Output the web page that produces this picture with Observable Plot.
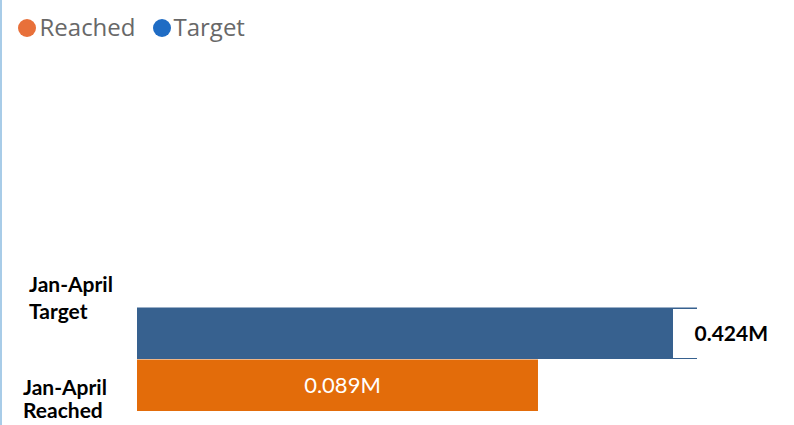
<!DOCTYPE html>
<html>
<head>
<meta charset="utf-8">
<script src="https://cdn.jsdelivr.net/npm/d3@7"></script>
<script src="https://cdn.jsdelivr.net/npm/@observablehq/plot@0.6"></script>
<style>
  html, body { margin: 0; padding: 0; background: #fff; }
  #wrap { position: relative; width: 794px; height: 425px; overflow: hidden; }
  #edge { position: absolute; left: 0; top: 0; width: 2px; height: 425px; background: #a8cce8; z-index: 2; }
  #legend { position: relative; height: 60px; font-family: "Open Sans", "Noto Sans", sans-serif; font-size: 24px; line-height: 24px; color: #686868; }
  .dot { position: absolute; top: 19px; width: 18px; height: 18px; border-radius: 50%; }
  .lbl { position: absolute; top: 15px; white-space: nowrap; }
  #chart svg { display: block; }
</style>
</head>
<body>
<div id="wrap">
  <div id="edge"></div>
  <div id="legend"></div>
  <div id="chart"></div>
</div>
<script>
// ---- data ----
const series = ["Reached", "Target"];
const legendColors = ["#e8703a", "#1f6cc4"];
const categories = ["Target", "Reached"];
const categoryLabels = ["Jan-April\nTarget", "Jan-April\nReached"];
// bar lengths as drawn in the source picture (in M); the source does not draw them to scale
const barValues = [0.424, 0.3036];
const valueLabels = ["0.424M", "0.089M"];
const barColors = ["#37618f", "#e36c0a"];

// ---- legend ----
const legend = document.getElementById("legend");
const dotX = [17.5, 152.5];
const textX = [39.5, 173.5];
series.forEach((s, i) => {
  const dot = document.createElement("span");
  dot.className = "dot";
  dot.style.left = dotX[i] + "px";
  dot.style.background = legendColors[i];
  const t = document.createElement("span");
  t.className = "lbl";
  t.style.left = textX[i] + "px";
  t.textContent = s;
  legend.appendChild(dot); legend.appendChild(t);
});

// ---- chart ----
const rows = categories.map((c, i) => ({
  cat: c, label: categoryLabels[i], value: barValues[i], text: valueLabels[i], color: barColors[i]
}));
const target = rows.filter(d => d.cat === "Target");
const reached = rows.filter(d => d.cat === "Reached");

const chart = Plot.plot({
  width: 794,
  height: 365,
  marginLeft: 137,
  marginRight: 97,
  marginTop: 247,
  marginBottom: 14,
  style: { fontFamily: "Lato, 'Open Sans', sans-serif", background: "transparent" },
  x: { domain: [0, 0.424], axis: null },
  y: { domain: categories, padding: 0, axis: null },
  marks: [
    Plot.barX(rows, { x: "value", y: "cat", fill: "color", insetTop: 0.5, insetBottom: 0 }),
    Plot.barX(target, { x1: "value", x2: "value", y: "cat", fill: "white", insetLeft: -24, insetTop: 2, insetBottom: 1 }),
    Plot.text(target, { x: "value", y: "cat", text: "text", textAnchor: "start", dx: -3, dy: 1,
      fontSize: 21, fontWeight: "bold", fill: "black" }),
    Plot.text(reached, { x: d => d.value / 2, y: "cat", text: "text", fontSize: 22, fill: "white", dx: 4.5, dy: 0.5 }),
    Plot.text(target, { y: "cat", text: "label", frameAnchor: "left", textAnchor: "start",
      dx: -108.5, dy: -36.5, fontSize: 21, fontWeight: "bold", lineHeight: 1.27, fill: "black" }),
    Plot.text(reached, { y: "cat", text: "label", frameAnchor: "left", textAnchor: "start",
      dx: -114.5, dy: 13.5, fontSize: 21, fontWeight: "bold", lineHeight: 1.11, fill: "black" })
  ]
});
document.getElementById("chart").appendChild(chart);
</script>
</body>
</html>
